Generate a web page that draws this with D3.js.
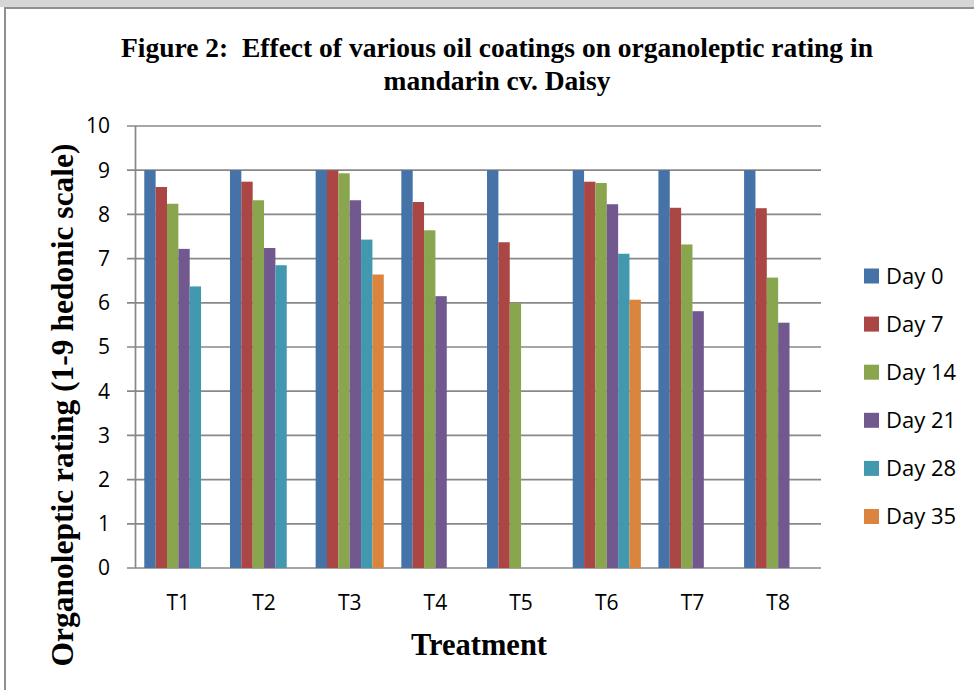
<!DOCTYPE html>
<html>
<head>
<meta charset="utf-8">
<script src="https://d3js.org/d3.v7.min.js"></script>
<style>
    body { margin: 0; background: #fff; }
    svg { display: block; }
    .tick-label { font-family: "Open Sans", sans-serif; font-size: 21px; fill: #000; }
    .legend text { font-family: "Open Sans", sans-serif; font-size: 22px; fill: #000; }
    .serif { font-family: "Liberation Serif", "Times New Roman", serif; font-weight: bold; fill: #000; white-space: pre; }
</style>
</head>
<body>
<svg id="chart" width="974" height="690"></svg>
<script>
    // data
    var treatments = ["T1", "T2", "T3", "T4", "T5", "T6", "T7", "T8"];
    var days = ["Day 0", "Day 7", "Day 14", "Day 21", "Day 28", "Day 35"];
    var day0  = [9, 9, 9, 9, 9, 9, 9, 9];
    var day7  = [8.62, 8.74, 9.0, 8.28, 7.37, 8.74, 8.15, 8.14];
    var day14 = [8.24, 8.32, 8.93, 7.64, 6.0, 8.71, 7.32, 6.57];
    var day21 = [7.22, 7.24, 8.32, 6.15, null, 8.23, 5.81, 5.55];
    var day28 = [6.37, 6.85, 7.43, null, null, 7.11, null, null];
    var day35 = [null, null, 6.64, null, null, 6.07, null, null];
    var yTicks = [0, 1, 2, 3, 4, 5, 6, 7, 8, 9, 10];

    var series = [day0, day7, day14, day21, day28, day35];
    var colors = ["#4572A7", "#AA4643", "#89A54E", "#71588F", "#4198AF", "#DB843D"];

    var svg = d3.select("#chart");

    // page frame
    svg.append("rect").attr("x", 0).attr("y", 0).attr("width", 974).attr("height", 7).attr("fill", "#d6d6d6");
    svg.append("path").attr("d", "M5,690V8H974").attr("fill", "none").attr("stroke", "#8f8f8f").attr("stroke-width", 2);

    var plot = {left: 135.5, right: 821, top: 126, bottom: 568};

    var x0 = d3.scaleBand()
        .domain(treatments)
        .range([plot.left, plot.right])
        .paddingInner(0.205)
        .paddingOuter(0.1025);

    var x1 = d3.scaleBand()
        .domain(days)
        .range([0, x0.bandwidth()]);

    var y = d3.scaleLinear()
        .domain([0, 10])
        .range([plot.bottom, plot.top]);

    // gridlines (extend left past the axis as tick marks)
    svg.append("g").selectAll("line")
        .data(yTicks)
        .enter().append("line")
        .attr("x1", plot.left - 8.5)
        .attr("x2", plot.right)
        .attr("y1", d => y(d))
        .attr("y2", d => y(d))
        .attr("stroke", "#888")
        .attr("stroke-width", 1.7);

    // y axis line
    svg.append("line")
        .attr("x1", plot.left).attr("x2", plot.left)
        .attr("y1", y(10)).attr("y2", y(0))
        .attr("stroke", "#888").attr("stroke-width", 1.7);

    svg.append("g").selectAll("text")
        .data(yTicks)
        .enter().append("text")
        .attr("class", "tick-label")
        .attr("x", 110)
        .attr("y", d => y(d))
        .attr("dy", "0.35em")
        .attr("text-anchor", "end")
        .text(d => d);

    // bars
    var groups = svg.append("g").selectAll("g")
        .data(series)
        .enter().append("g")
        .attr("fill", (d, i) => colors[i]);

    groups.each(function(vals, si) {
        d3.select(this).selectAll("rect")
            .data(vals.map((v, ti) => ({t: treatments[ti], v: v})).filter(d => d.v != null))
            .enter().append("rect")
            .attr("x", d => x0(d.t) + x1(days[si]))
            .attr("width", x1.bandwidth())
            .attr("y", d => y(d.v))
            .attr("height", d => y(0) - y(d.v));
    });

    // x labels
    svg.append("g").selectAll("text")
        .data(treatments)
        .enter().append("text")
        .attr("class", "tick-label")
        .attr("x", d => x0(d) + x0.bandwidth() / 2)
        .attr("y", 610)
        .attr("text-anchor", "middle")
        .text(d => d);

    // titles
    var title = svg.append("text")
        .attr("class", "serif")
        .attr("text-anchor", "middle")
        .style("font-size", "27.5px");
    title.append("tspan").attr("x", 497).attr("y", 57).text("Figure 2:  Effect of various oil coatings on organoleptic rating in");
    title.append("tspan").attr("x", 497).attr("y", 90).text("mandarin cv. Daisy");

    svg.append("text")
        .attr("class", "serif")
        .attr("text-anchor", "middle")
        .attr("x", 479)
        .attr("y", 655)
        .style("font-size", "30.5px")
        .text("Treatment");

    svg.append("text")
        .attr("class", "serif")
        .attr("text-anchor", "middle")
        .attr("transform", "translate(73,405) rotate(-90)")
        .style("font-size", "31.5px")
        .text("Organoleptic rating (1-9 hedonic scale)");

    // legend
    var legend = svg.append("g").attr("class", "legend")
        .selectAll("g")
        .data(days)
        .enter().append("g")
        .attr("transform", (d, i) => "translate(864," + (276 + i * 48.1) + ")");

    legend.append("rect")
        .attr("x", 0).attr("y", -7.5)
        .attr("width", 15).attr("height", 15)
        .attr("fill", (d, i) => colors[i]);

    legend.append("text")
        .attr("x", 22)
        .attr("dy", "0.36em")
        .text(d => d);
</script>
</body>
</html>
